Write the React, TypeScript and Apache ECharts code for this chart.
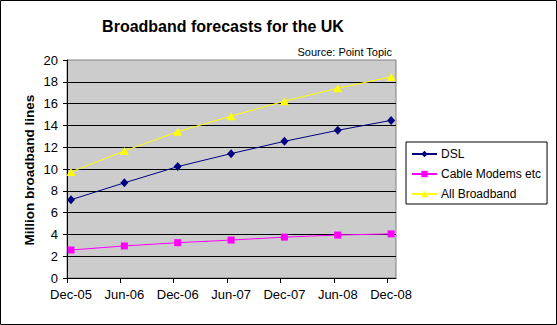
import React, { useEffect, useRef } from "react";
import * as echarts from "echarts";

const categories = ["Dec-05", "Jun-06", "Dec-06", "Jun-07", "Dec-07", "Jun-08", "Dec-08"];
const dsl = [7.18, 8.73, 10.22, 11.41, 12.54, 13.55, 14.46];
const cable = [2.57, 2.94, 3.24, 3.48, 3.75, 3.94, 4.05];
const allBroadband = [9.73, 11.65, 13.42, 14.85, 16.22, 17.41, 18.45];
const yTicks = [0, 2, 4, 6, 8, 10, 12, 14, 16, 18, 20];

const STEP = 6; // months between categories
const OFFSET = 0.45; // points sit mid-month, right of the tick

const FONT = "Arial, 'Liberation Sans', sans-serif";

export default function App() {
  const ref = useRef<HTMLDivElement>(null);
  useEffect(() => {
    document.body.style.margin = "0";
    const chart = echarts.init(ref.current!, null, { renderer: "svg" });
    const toPts = (arr: number[]) => arr.map((v, i) => [i * STEP + OFFSET, v]);
    const tickVals = categories.map((_, i) => i * STEP);
    const labelVals = categories.map((_, i) => i * STEP + OFFSET);
    chart.setOption({
      animation: false,
      textStyle: { fontFamily: FONT },
      grid: {
        left: 67,
        right: 161,
        top: 60,
        bottom: 47,
        show: true,
        backgroundColor: "#CCCCCC",
        borderColor: "#808080",
        borderWidth: 1,
      },
      xAxis: {
        type: "value",
        min: 0,
        max: 37,
        axisLine: { show: true, lineStyle: { color: "#000", width: 1 } },
        axisTick: { show: true, length: 5, customValues: tickVals, lineStyle: { color: "#000" } },
        axisLabel: {
          customValues: labelVals,
          formatter: (v: number) => categories[Math.round((v - OFFSET) / STEP)] ?? "",
          color: "#000",
          fontSize: 13,
          fontFamily: FONT,
          margin: 10,
        },
        splitLine: { show: false },
      },
      yAxis: {
        type: "value",
        min: yTicks[0],
        max: yTicks[yTicks.length - 1],
        interval: 2,
        axisLine: { show: true, lineStyle: { color: "#000", width: 1 } },
        axisTick: { show: true, length: 4, lineStyle: { color: "#000" } },
        axisLabel: { color: "#000", fontSize: 13, fontFamily: FONT, margin: 9 },
        splitLine: { show: true, showMaxLine: false, lineStyle: { color: "#000", width: 1 } },
      },
      legend: {
        orient: "vertical",
        left: 406,
        top: 142,
        padding: [5, 6, 3, 5],
        itemGap: 6,
        itemWidth: 25,
        itemHeight: 8,
        backgroundColor: "#fff",
        borderColor: "#000",
        borderWidth: 1,
        borderRadius: 0,
        textStyle: { color: "#000", fontSize: 12, lineHeight: 14, fontFamily: FONT, padding: [0, 0, 0, -1] },
        data: ["DSL", "Cable Modems etc", "All Broadband"],
      },
      graphic: [
        {
          type: "rect",
          shape: { x: 0.5, y: 0.5, width: 556, height: 324 },
          style: { fill: "none", stroke: "#000", lineWidth: 1 },
          silent: true,
        },
        {
          type: "text",
          x: 223,
          y: 26,
          style: {
            text: "Broadband forecasts for the UK",
            font: `bold 16px ${FONT}`,
            fill: "#000",
            textAlign: "center",
            textVerticalAlign: "middle",
          },
        },
        {
          type: "text",
          x: 392,
          y: 52,
          style: {
            text: "Source: Point Topic",
            font: `11px ${FONT}`,
            fill: "#000",
            textAlign: "right",
            textVerticalAlign: "middle",
          },
        },
        {
          type: "text",
          x: 29,
          y: 170,
          rotation: Math.PI / 2,
          style: {
            text: "Million broadband lines",
            font: `bold 13.5px ${FONT}`,
            fill: "#000",
            textAlign: "center",
            textVerticalAlign: "middle",
          },
        },
      ],
      series: [
        {
          name: "DSL",
          type: "line",
          data: toPts(dsl),
          symbol: "diamond",
          symbolSize: [8, 9],
          lineStyle: { color: "#000080", width: 1 },
          itemStyle: { color: "#000080" },
        },
        {
          name: "Cable Modems etc",
          type: "line",
          data: toPts(cable),
          symbol: "rect",
          symbolSize: 7,
          lineStyle: { color: "#FF00FF", width: 1 },
          itemStyle: { color: "#FF00FF" },
        },
        {
          name: "All Broadband",
          type: "line",
          data: toPts(allBroadband),
          symbol: "triangle",
          symbolSize: [9, 8],
          lineStyle: { color: "#FFFF00", width: 1 },
          itemStyle: { color: "#FFFF00" },
        },
      ],
    });
    return () => chart.dispose();
  }, []);
  return <div ref={ref} style={{ width: 557, height: 325 }} />;
}
